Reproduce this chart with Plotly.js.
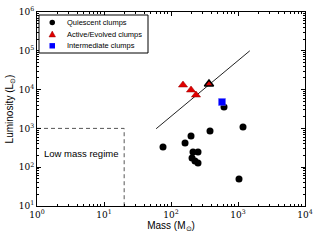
<!DOCTYPE html>
<html><head><meta charset="utf-8">
<script src="https://cdn.plot.ly/plotly-3.0.1.min.js"></script>
<style>html,body{margin:0;padding:0;background:#fff}#chart{width:320px;height:240px}</style>
</head><body><div id="chart"></div>
<script>
// Quiescent clumps
var qMass = [618, 1188, 382, 199, 162, 76, 213, 253, 206, 228, 253, 1035];
var qLum  = [3550, 1086, 857, 637, 421, 332, 247, 247, 173, 145, 128, 50];
// Active/Evolved clumps
var aMass = [151, 199, 236, 369];
var aLum  = [13150, 9770, 7260, 13930];
// Intermediate clumps
var iMass = [577];
var iLum  = [4790];
// Fit line
var fitMass = [60, 1500];
var fitLum  = [980, 100000];
// Low mass regime box
var boxMass = [1, 20, 20];
var boxLum  = [1000, 1000, 10];
var legendNames = ['Quiescent clumps', 'Active/Evolved clumps', 'Intermediate clumps'];
var xTickVals = [1, 10, 100, 1000, 10000];
var xTickText = ['10<sup>0</sup>','10<sup>1</sup>','10<sup>2</sup>','10<sup>3</sup>','10<sup>4</sup>'];
var yTickVals = [10, 100, 1000, 10000, 100000, 1000000];
var yTickText = ['10<sup>1</sup>','10<sup>2</sup>','10<sup>3</sup>','10<sup>4</sup>','10<sup>5</sup>','10<sup>6</sup>'];

function minorVals(lo, hi){ var v=[]; for(var e=lo;e<hi;e++){ for(var k=2;k<=9;k++){ v.push(k*Math.pow(10,e)); } } return v; }

var SANS = 'Liberation Sans, Arial, sans-serif';
var traces = [
  {x: boxMass, y: boxLum, mode:'lines', line:{color:'#555', width:1, dash:'4px,3px'}, hoverinfo:'skip'},
  {x: fitMass, y: fitLum, mode:'lines', line:{color:'#222', width:1}, hoverinfo:'skip'},
  {x: qMass, y: qLum, mode:'markers', name: legendNames[0], marker:{symbol:'circle', size:7, color:'#000'}},
  {x: aMass, y: aLum, mode:'markers', name: legendNames[1], marker:{symbol:'triangle-up', size:8, color:'#e00000', line:{color:['#900','#900','#900','#000'], width:[0.5,0.5,0.5,1.5]}}},
  {x: iMass, y: iLum, mode:'markers', name: legendNames[2], marker:{symbol:'square', size:7, color:'#0000ff', line:{color:'#6060ff', width:0.5}}}
];

var axisCommon = {
  type:'log', showgrid:false, zeroline:false, showline:true, linecolor:'#000', linewidth:1,
  mirror:'ticks', ticks:'inside', ticklen:4, tickcolor:'#000', tickmode:'array',
  tickfont:{family:'DejaVu Serif, serif', size:9, color:'#000'},
  minor:{ticks:'inside', ticklen:2, tickcolor:'#000', tickmode:'array'}
};
var xaxis = Object.assign({}, axisCommon, {
  range:[0,4], tickvals:xTickVals, ticktext:xTickText,
  title:{text:'Mass (M<sub>⊙</sub>)', font:{family:SANS, size:10, color:'#000'}, standoff:3}
});
xaxis.minor = Object.assign({}, axisCommon.minor, {tickvals: minorVals(0,4)});
var yaxis = Object.assign({}, axisCommon, {
  range:[1,6], tickvals:yTickVals, ticktext:yTickText,
  title:{text:'Luminosity (L<sub>⊙</sub>)', font:{family:SANS, size:10, color:'#000'}, standoff:3}
});
yaxis.minor = Object.assign({}, axisCommon.minor, {tickvals: minorVals(1,6)});

// manual compact legend (paper coords from pixel helper)
var L=37, T=12, W=268, H=194;
function px(x){return (x-L)/W;} function py(y){return (206-y)/H;}
var shapes = [
  {type:'rect', xref:'paper', yref:'paper', x0:px(39), x1:px(148), y0:py(15), y1:py(53), line:{color:'#000', width:1}, fillcolor:'#fff', layer:'above'}
];
var annotations = [];
var rows = [22.5, 34.3, 45.8];
for (var i=0;i<3;i++){
  annotations.push({xref:'paper', yref:'paper', x:px(65), y:py(rows[i]), text:legendNames[i], showarrow:false, xanchor:'left', yanchor:'middle', font:{family:SANS, size:7.5, color:'#000'}});
}
// legend symbols
shapes.push({type:'circle', xref:'paper', yref:'paper', x0:px(49.5), x1:px(55), y0:py(rows[0]-2.8), y1:py(rows[0]+2.8), fillcolor:'#000', line:{width:0}, layer:'above'});
shapes.push({type:'path', xref:'paper', yref:'paper', path:'M '+px(49)+' '+py(rows[1]+2.6)+' L '+px(55.5)+' '+py(rows[1]+2.6)+' L '+px(52.25)+' '+py(rows[1]-3.2)+' Z', fillcolor:'#e00000', line:{color:'#900', width:0.5}, layer:'above'});
shapes.push({type:'rect', xref:'paper', yref:'paper', x0:px(49.5), x1:px(55), y0:py(rows[2]+2.7), y1:py(rows[2]-2.7), fillcolor:'#0000ff', line:{width:0}, layer:'above'});

annotations.push({xref:'x', yref:'y', x:Math.log10(4.46), y:Math.log10(232), text:'Low mass regime', showarrow:false, font:{family:SANS, size:9.5, color:'#000'}});

var layout = {
  width:320, height:240, margin:{l:37, r:15, t:12, b:34},
  paper_bgcolor:'#fff', plot_bgcolor:'#fff', showlegend:false,
  xaxis:xaxis, yaxis:yaxis, shapes:shapes, annotations:annotations
};
Plotly.newPlot('chart', traces, layout, {staticPlot:true});
</script></body></html>
